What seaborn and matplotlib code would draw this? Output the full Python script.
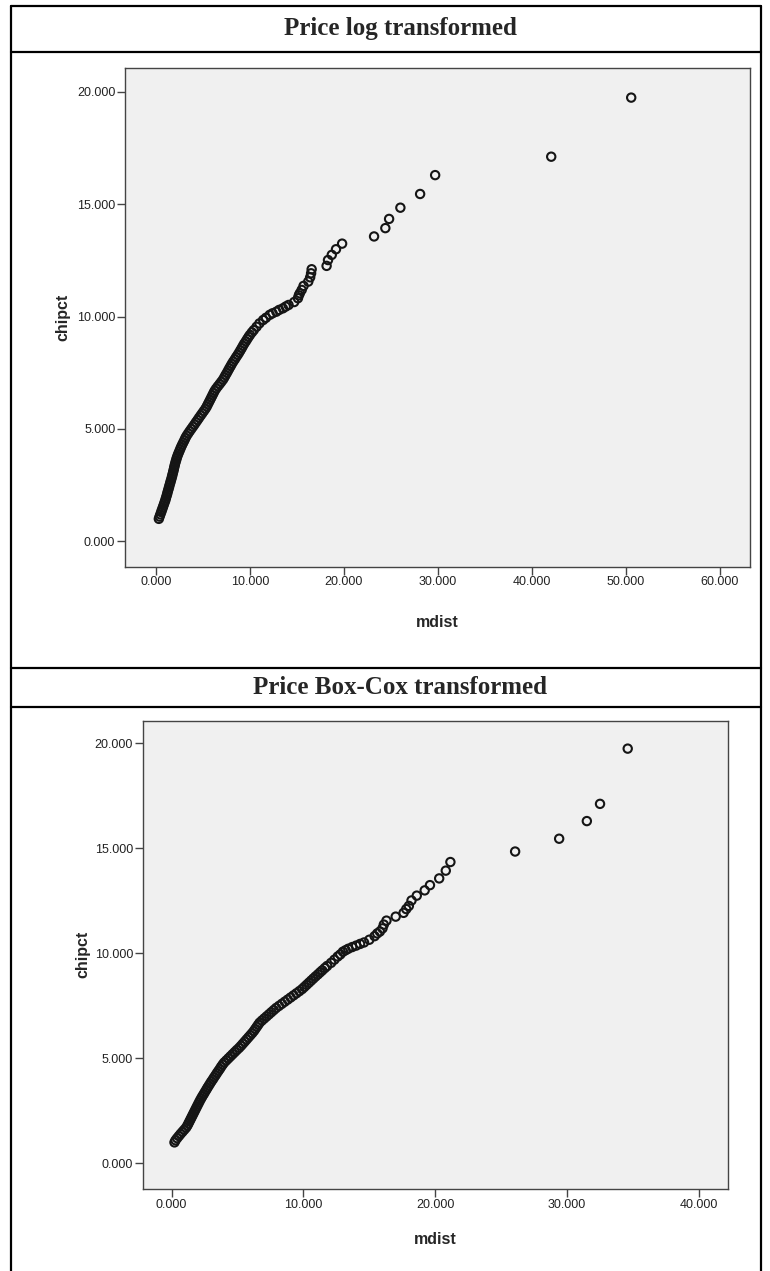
import matplotlib
matplotlib.use("Agg")
import matplotlib.pyplot as plt
from matplotlib.lines import Line2D
from matplotlib.ticker import FormatStrFormatter
import seaborn as sns
import pandas as pd

# Chi-square percentiles (same for both panels)
chipct = [
    1.0, 1.1, 1.2, 1.3, 1.4, 1.5, 1.6, 1.7, 1.8, 1.9,
    2.0, 2.1, 2.2, 2.3, 2.4, 2.5, 2.6, 2.7, 2.8, 2.9,
    3.0, 3.1, 3.2, 3.3, 3.4, 3.5, 3.6, 3.7, 3.8, 3.9,
    4.0, 4.1, 4.2, 4.3, 4.4, 4.5, 4.6, 4.7, 4.8, 4.9,
    5.0, 5.1, 5.2, 5.3, 5.4, 5.5, 5.6, 5.7, 5.8, 5.9,
    6.0, 6.1, 6.2, 6.3, 6.4, 6.5, 6.6, 6.7, 6.8, 6.9,
    7.0, 7.1, 7.2, 7.3, 7.4, 7.5, 7.6, 7.7, 7.8, 7.9,
    8.0, 8.1, 8.2, 8.3, 8.4, 8.5, 8.6, 8.7, 8.8, 8.9,
    9.0,
    9.1, 9.19, 9.3, 9.4, 9.55, 9.7, 9.85, 9.95, 10.08, 10.15,
    10.22, 10.3, 10.37, 10.45, 10.52, 10.65, 10.82, 10.95, 11.04, 11.19,
    11.37, 11.56, 11.75, 11.93, 12.11, 12.26, 12.52, 12.75, 13.0, 13.25,
    13.57, 13.94, 14.35, 14.85, 15.46, 16.3, 17.12, 19.75,
]

# Mahalanobis distances, price log transformed
mdist_log = [
    0.30, 0.38, 0.46, 0.55, 0.63, 0.72, 0.80, 0.88, 0.97, 1.04,
    1.11, 1.18, 1.24, 1.31, 1.38, 1.44, 1.51, 1.58, 1.65, 1.71,
    1.77, 1.83, 1.89, 1.94, 2.00, 2.06, 2.13, 2.20, 2.28, 2.37,
    2.47, 2.57, 2.67, 2.78, 2.90, 3.02, 3.13, 3.26, 3.42, 3.58,
    3.75, 3.92, 4.09, 4.25, 4.42, 4.58, 4.75, 4.92, 5.09, 5.26,
    5.40, 5.52, 5.64, 5.76, 5.88, 6.00, 6.12, 6.24, 6.40, 6.58,
    6.77, 6.95, 7.13, 7.27, 7.40, 7.54, 7.67, 7.80, 7.94, 8.07,
    8.22, 8.38, 8.53, 8.69, 8.84, 8.98, 9.12, 9.25, 9.39, 9.55,
    9.70,
    9.85, 10.0, 10.2, 10.4, 10.7, 11.0, 11.4, 11.7, 12.1, 12.4,
    12.8, 13.1, 13.5, 13.8, 14.1, 14.7, 15.1, 15.2, 15.3, 15.5,
    15.7, 16.2, 16.4, 16.5, 16.56, 18.15, 18.3, 18.7, 19.15, 19.8,
    23.2, 24.4, 24.8, 26.0, 28.1, 29.7, 42.05, 50.56,
]

# Mahalanobis distances, price Box-Cox transformed
mdist_boxcox = [
    0.22, 0.30, 0.42, 0.55, 0.68, 0.82, 0.96, 1.10, 1.20, 1.28,
    1.36, 1.44, 1.52, 1.60, 1.68, 1.76, 1.84, 1.92, 2.00, 2.08,
    2.16, 2.25, 2.34, 2.44, 2.53, 2.63, 2.72, 2.82, 2.92, 3.02,
    3.13, 3.23, 3.34, 3.44, 3.55, 3.66, 3.76, 3.87, 3.99, 4.15,
    4.31, 4.47, 4.63, 4.79, 4.95, 5.12, 5.27, 5.41, 5.55, 5.69,
    5.83, 5.97, 6.11, 6.24, 6.35, 6.46, 6.57, 6.68, 6.85, 7.03,
    7.21, 7.39, 7.57, 7.75, 7.93, 8.15, 8.37, 8.59, 8.81, 9.03,
    9.25, 9.47, 9.69, 9.90, 10.07, 10.24, 10.41, 10.58, 10.75, 10.92,
    11.10,
    11.27, 11.43, 11.62, 11.8, 12.1, 12.35, 12.6, 12.8, 13.0, 13.2,
    13.4, 13.7, 14.0, 14.3, 14.6, 15.0, 15.4, 15.6, 15.8, 16.0,
    16.1, 16.3, 17.0, 17.6, 17.8, 18.0, 18.2, 18.6, 19.2, 19.6,
    20.3, 20.8, 21.15, 26.06, 29.4, 31.5, 32.5, 34.6,
]

panel_titles = ["Price log transformed", "Price Box-Cox transformed"]
y_ticks = [0, 5, 10, 15, 20]
x_ticks_log = [0, 10, 20, 30, 40, 50, 60]
x_ticks_boxcox = [0, 10, 20, 30, 40]

df_log = pd.DataFrame({"mdist": mdist_log, "chipct": chipct})
df_boxcox = pd.DataFrame({"mdist": mdist_boxcox, "chipct": chipct})

sns.set_style("white")
plt.rcParams["font.family"] = ["Liberation Sans", "DejaVu Sans"]

W, H = 770, 1271
fig = plt.figure(figsize=(W / 100, H / 100), dpi=100)


def px_box(left, top, right, bottom):
    # pixel box -> figure fraction rect
    return [left / W, 1 - bottom / H, (right - left) / W, (bottom - top) / H]


ax1 = fig.add_axes(px_box(125, 67.5, 750, 566.7))
ax2 = fig.add_axes(px_box(142.7, 720.7, 727.9, 1189))

panels = [
    (ax1, df_log, x_ticks_log, (-3.3, 63.2), (-1.13, 21.09), (-0.088, -0.097)),
    (ax2, df_boxcox, x_ticks_boxcox, (-2.19, 42.2), (-1.22, 21.08), (-0.090, -0.092)),
]

for ax, df, xt, xlim, ylim, (ylab_x, xlab_y) in panels:
    sns.scatterplot(data=df, x="mdist", y="chipct", ax=ax, s=36,
                    marker="o", facecolors="none", edgecolor="#151515",
                    linewidth=1.5, legend=False)
    ax.set_facecolor("#f0f0f0")
    ax.set_xlim(*xlim)
    ax.set_ylim(*ylim)
    ax.set_xticks(xt)
    ax.set_yticks(y_ticks)
    ax.xaxis.set_major_formatter(FormatStrFormatter("%.3f"))
    ax.yaxis.set_major_formatter(FormatStrFormatter("%.3f"))
    ax.tick_params(axis="both", direction="out", length=6, width=1,
                   bottom=True, left=True,
                   color="#444444", labelsize=9, labelcolor="#222222", pad=1)
    for sp in ax.spines.values():
        sp.set_color("#444444")
        sp.set_linewidth(1)
    ax.set_xlabel("mdist", fontsize=11.5, fontweight="bold", va="top")
    ax.set_ylabel("chipct", fontsize=11.5, fontweight="bold")
    ax.xaxis.set_label_coords(0.5, xlab_y)
    ax.yaxis.set_label_coords(ylab_x, 0.5)

# Table border around the two panels
def hline(y, x0=11, x1=761):
    fig.add_artist(Line2D([x0 / W, x1 / W], [1 - y / H, 1 - y / H],
                          color="black", lw=1.6))


def vline(x, y0=6, y1=H):
    fig.add_artist(Line2D([x / W, x / W], [1 - y0 / H, 1 - y1 / H],
                          color="black", lw=1.6))


for y in [6, 52, 668, 707]:
    hline(y)
vline(11)
vline(761)

fig.text(400 / W, 1 - 29 / H, panel_titles[0], ha="center", va="center",
         fontsize=18, fontweight="bold", family="Liberation Serif")
fig.text(400 / W, 1 - 688 / H, panel_titles[1], ha="center", va="center",
         fontsize=18, fontweight="bold", family="Liberation Serif")

fig.savefig("out.png", dpi=100)
plt.close(fig)
